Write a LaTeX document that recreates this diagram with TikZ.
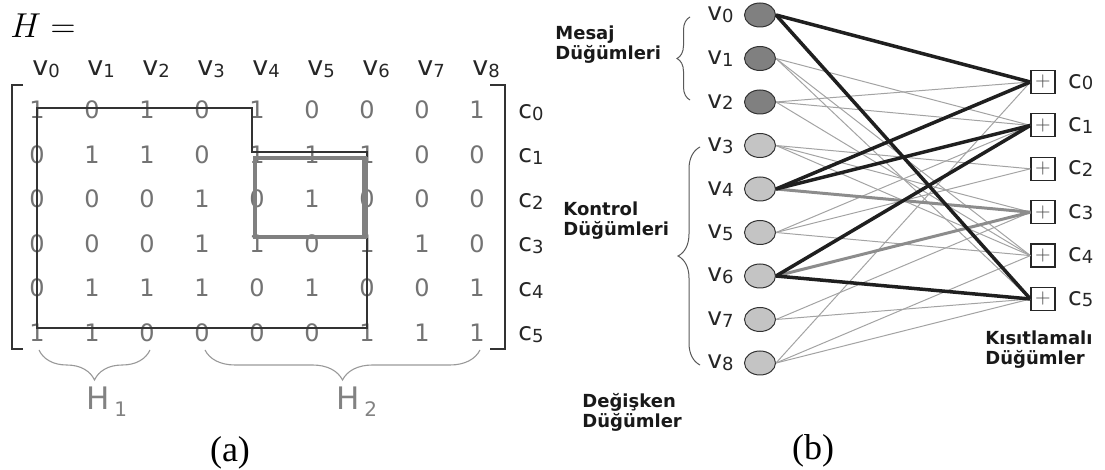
\documentclass[tikz,border=0pt]{standalone}
\usepackage{fontspec}
\setsansfont{DejaVu Sans}
\newfontfamily\capfont{Liberation Serif}
\usepackage{tikz}
\usetikzlibrary{positioning,shapes.geometric,decorations.pathreplacing}
\definecolor{numgray}{gray}{0.45}
\definecolor{framegray}{gray}{0.20}
\definecolor{boxgray}{gray}{0.50}
\definecolor{bracegray}{gray}{0.60}
\definecolor{msgfill}{gray}{0.50}
\definecolor{ctlfill}{gray}{0.77}
\definecolor{edgegray}{gray}{0.64}
\definecolor{cyclegray}{gray}{0.55}
\newcommand{\lsub}[1]{\raisebox{-0.8pt}{\fontsize{9}{9}\selectfont #1}}

\begin{document}
\begin{tikzpicture}[
    x=0.5pt, y=-0.5pt,
    every node/.style={inner sep=0pt, font=\sffamily},
    entry/.style={font=\sffamily\fontsize{12}{13}\selectfont, text=numgray},
    collab/.style={font=\sffamily\fontsize{13.5}{14}\selectfont, text=black!85},
    rowlab/.style={font=\sffamily\fontsize{12.5}{13}\selectfont, text=black!85},
    hlab/.style={font=\sffamily\fontsize{15.5}{16}\selectfont, text=bracegray!85!black},
    grouplab/.style={font=\sffamily\bfseries\fontsize{9}{10}\selectfont, align=left, text=black!90},
    caplab/.style={font=\capfont\fontsize{18}{20}\selectfont},
    vnode/.style={ellipse, draw=black!80, line width=0.5pt, minimum width=15.5pt, minimum height=12pt},
    vlab/.style={font=\sffamily\fontsize{12.5}{13}\selectfont, text=black!85},
    chk/.style={draw=black!85, line width=0.6pt, minimum width=12pt, minimum height=11.5pt,
      font=\fontsize{10}{10}\selectfont, text=black!70},
    thinedge/.style={edgegray, line width=0.5pt},
    grayedge/.style={cyclegray, line width=1.5pt},
    blackedge/.style={black!88, line width=1.75pt},
    mbrace/.style={decorate, bracegray, line width=0.55pt},
    gbrace/.style={decorate, black!65, line width=0.5pt},
  ]
    \useasboundingbox (0,0) rectangle (1105,470);

    % ---------------- (a) parity-check matrix ----------------
    \node[anchor=west, font=\fontsize{17.28}{20}\selectfont] (heq) at (10,26) {$H=$};

    % column heads v0..v8 and row heads c0..c5
    \foreach \i in {0,...,8} {
      \node[collab, anchor=base west] (h\i) at ({37+55*\i-5}, 76) {v\lsub{\i}};
    }
    \foreach \j in {0,...,5} {
      \node[rowlab, anchor=base west] (r\j) at (518, {110+44.5*\j+8.5}) {c\lsub{\j}};
    }

    % entries, row by row
    \foreach \row [count=\j from 0] in {
        {1,0,1,0,1,0,0,0,1},
        {0,1,1,0,1,1,1,0,0},
        {0,0,0,1,0,1,0,0,0},
        {0,0,0,1,1,0,1,1,0},
        {0,1,1,1,0,1,0,0,1},
        {1,1,0,0,0,0,1,1,1}} {
      \foreach \val [count=\i from 0] in \row {
        \node[entry] (m\j\i) at ({37+55*\i}, {110+44.5*\j}) {\val};
      }
    }

    % brackets
    \draw[framegray, line width=0.8pt] (23,85) -- (12,85) -- (12,349) -- (23,349);
    \draw[framegray, line width=0.8pt] (490,85) -- (505,85) -- (505,349) -- (490,349);

    % outline of the 6-cycle and the 4-cycle box
    \draw[framegray, line width=0.7pt]
      (37,108) -- (252,108) -- (252,152) -- (367,152) -- (367,328) -- (37,328) -- cycle;
    \draw[boxgray, line width=2pt] (255,158) rectangle (365,237);
    \draw[boxgray, line width=3pt] (365,157) -- (365,238);

    % H1 / H2 braces
    \draw[mbrace, decoration={brace, amplitude=15pt}] (150,350) -- (39,350);
    \draw[mbrace, decoration={brace, amplitude=15pt}] (480,350) -- (205,350);
    \node[hlab, anchor=base west] (hone) at (85.7,410)
      {H\hspace{2.5pt}\raisebox{-3.5pt}{\fontsize{10}{10}\selectfont 1}};
    \node[hlab, anchor=base west] (htwo) at (335.7,410)
      {H\hspace{2.5pt}\raisebox{-3.5pt}{\fontsize{10}{10}\selectfont 2}};

    \node[caplab] (capa) at (230,453) {(a)};

    % ---------------- (b) Tanner graph ----------------
    % variable nodes
    \foreach \i in {0,...,8} {
      \ifnum\i<3 \def\vfill{msgfill}\else\def\vfill{ctlfill}\fi
      \node[vnode, fill=\vfill] (v\i) at (760, {15+43.5*\i}) {};
      \node[vlab, left=5pt of v\i] (lv\i) {v\lsub{\i}};
    }

    % check nodes
    \foreach \j in {0,...,5} {
      \node[chk] (c\j) at (1043, {82+43.4*\j}) {$+$};
      \node[vlab, right=6pt of c\j] (lc\j) {c\lsub{\j}};
    }

    % edges: ordinary, 4-cycle (gray), 6-cycle (black)
    \foreach \v/\c in {2/0,8/0,1/1,2/1,5/1,3/2,5/2,3/3,7/3,1/4,2/4,3/4,5/4,8/4,1/5,7/5,8/5} {
      \draw[thinedge] (v\v.east) -- (c\c.west);
    }
    \foreach \v/\c in {4/3,6/3} {
      \draw[grayedge] (v\v.east) -- (c\c.west);
    }
    \foreach \v/\c in {0/0,0/5,4/0,4/1,6/1,6/5} {
      \draw[blackedge] (v\v.east) -- (c\c.west);
    }

    % group braces and labels
    \draw[gbrace, decoration={brace, amplitude=6.5pt}] (690,100) -- (690,17);
    \draw[gbrace, decoration={brace, amplitude=11pt}] (700,365) -- (700,147);
    \node[grouplab, anchor=north west] (msg) at (555,25) {Mesaj\\Düğümleri};
    \node[grouplab, anchor=north west] (ctl) at (563,201) {Kontrol\\Düğümleri};
    \node[grouplab, anchor=north west] (var) at (582,393) {Değişken\\Düğümler};
    \node[grouplab, anchor=north west] (cst) at (985,330) {Kısıtlamalı\\Düğümler};

    \node[caplab] (capb) at (813,451) {(b)};
  \end{tikzpicture}
\end{document}
